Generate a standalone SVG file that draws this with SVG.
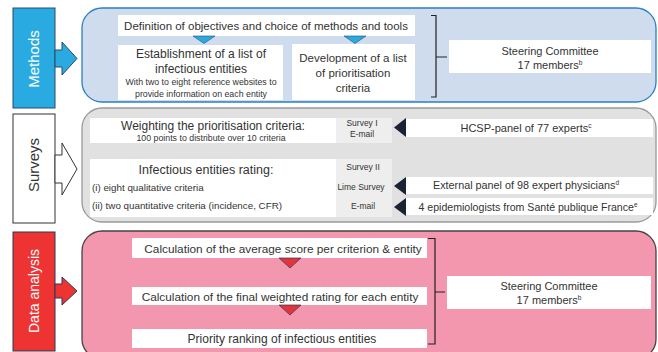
<svg xmlns="http://www.w3.org/2000/svg" width="658" height="352" viewBox="0 0 658 352">
<style>
text{font-family:"Liberation Sans","Open Sans",Arial,sans-serif;fill:#333;}
.c{text-anchor:middle;}
.wb{fill:#fff;}
.side{font-size:15px;fill:#fff;text-anchor:middle;}
.bracket{fill:none;stroke:#222;stroke-width:1.2;}
.lbl{font-size:8.5px;text-anchor:middle;}
</style>
<rect width="658" height="352" fill="#fff"/>

<g id="methods">
  <rect x="13" y="8" width="42" height="100" fill="#29abe2" stroke="#2a4a66" stroke-width="1"/>
  <text class="side" transform="translate(39,59) rotate(-90)">Methods</text>
  <path d="M55,50 H62 V42 L77,58.5 L62,75 V67 H55 Z" fill="#29abe2" stroke="#2a4a66" stroke-width="1"/>
  <rect x="82" y="8" width="574" height="94" rx="20" fill="#cfdcee" stroke="#2a7fc1" stroke-width="1.3"/>
  <rect class="wb" x="118" y="15" width="297" height="21"/>
  <text class="c" x="266" y="30" font-size="11.5">Definition of objectives and choice of methods and tools</text>
  <path d="M193,36 H215 L204,43.5 Z" fill="#29abe2" stroke="#2a4a66" stroke-width="0.6"/>
  <path d="M344,36 H366 L355,43.5 Z" fill="#29abe2" stroke="#2a4a66" stroke-width="0.6"/>
  <rect class="wb" x="118" y="45" width="165" height="55"/>
  <text class="c" x="201" y="58" font-size="12">Establishment of a list of</text>
  <text class="c" x="201" y="72.5" font-size="12">infectious entities</text>
  <text class="c" x="201" y="85" font-size="8.8">With two to eight reference websites to</text>
  <text class="c" x="201" y="96.5" font-size="8.8">provide information on each entity</text>
  <rect class="wb" x="292" y="44" width="123" height="56"/>
  <text class="c" x="353" y="62" font-size="11.5">Development of a list</text>
  <text class="c" x="353" y="77" font-size="11.5">of prioritisation</text>
  <text class="c" x="353" y="92" font-size="11.5">criteria</text>
  <path class="bracket" d="M431,15.5 H436 V97 H431 M436,57 H447"/>
  <rect class="wb" x="449" y="40" width="202" height="33"/>
  <text class="c" x="550" y="55" font-size="11">Steering Committee</text>
  <text class="c" x="550" y="68.5" font-size="11">17 members<tspan font-size="6.5" dy="-4">b</tspan></text>
</g>

<g id="surveys">
  <rect x="13" y="114" width="42" height="109" fill="#fff" stroke="#333" stroke-width="1"/>
  <text class="side" style="fill:#333" transform="translate(39,165) rotate(-90)">Surveys</text>
  <path d="M55,155 H62 V143 L77,169 L62,195 V183 H55 Z" fill="#fff" stroke="#333" stroke-width="1"/>
  <rect x="82" y="108" width="574" height="114" rx="20" fill="#e1e1e1" stroke="#999" stroke-width="1.3"/>
  <rect class="wb" x="90" y="118" width="246" height="25"/>
  <rect x="336" y="118" width="56" height="25" fill="#eeeeee"/>
  <text class="c" x="213" y="129.5" font-size="12">Weighting the prioritisation criteria:</text>
  <text class="c" x="211" y="140.5" font-size="8.8">100 points to distribute over 10 criteria</text>
  <text class="lbl" x="362" y="126">Survey I</text>
  <text class="lbl" x="362" y="137">E-mail</text>
  <path d="M394,127.5 L406,118 V137 Z" fill="#1a2233"/>
  <rect class="wb" x="406" y="119" width="247" height="18"/>
  <text class="c" x="526" y="132" font-size="11">HCSP-panel of 77 experts<tspan font-size="6.5" dy="-4">c</tspan></text>

  <rect class="wb" x="90" y="159" width="246" height="58"/>
  <rect x="336" y="159" width="56" height="58" fill="#eeeeee"/>
  <text class="c" x="206" y="174" font-size="12.5">Infectious entities rating:</text>
  <text x="92" y="190.5" font-size="9.8">(i) eight qualitative criteria</text>
  <text x="92" y="209" font-size="9.8">(ii) two quantitative criteria (incidence, CFR)</text>
  <text class="lbl" x="363" y="169.5" font-size="9">Survey II</text>
  <text class="lbl" x="361" y="190" font-size="9">Lime Survey</text>
  <text class="lbl" x="363" y="208.5" font-size="9">E-mail</text>
  <path d="M394,186 L406,177 V195 Z" fill="#1a2233"/>
  <rect class="wb" x="406" y="177" width="247" height="17"/>
  <text class="c" x="526" y="189" font-size="10.8">External panel of 98 expert physicians<tspan font-size="6.5" dy="-4">d</tspan></text>
  <path d="M394,207 L406,198 V216 Z" fill="#1a2233"/>
  <rect class="wb" x="406" y="198" width="247" height="17"/>
  <text class="c" x="528" y="210.5" font-size="10.6">4 epidemiologists from Santé publique France<tspan font-size="6.5" dy="-4">e</tspan></text>
</g>

<g id="data-analysis">
  <rect x="13" y="232" width="42" height="119" fill="#ee3333" stroke="#2a3a55" stroke-width="1"/>
  <text class="side" font-size="14" style="font-size:14px" transform="translate(39,291) rotate(-90)">Data analysis</text>
  <path d="M55,284 H62 V277 L77,291 L62,305 V298 H55 Z" fill="#ee3333" stroke="#2a3a55" stroke-width="1"/>
  <rect x="82" y="231" width="574" height="128" rx="20" fill="#f397ae" stroke="#444" stroke-width="1.3"/>
  <rect class="wb" x="132" y="238" width="295" height="20"/>
  <text class="c" x="283" y="252.5" font-size="11.8">Calculation of the average score per criterion &amp; entity</text>
  <path d="M279,258 H301 L290,268 Z" fill="#e2343c" stroke="#2a3a55" stroke-width="0.7"/>
  <rect class="wb" x="132" y="287" width="295" height="18"/>
  <text class="c" x="280" y="300.5" font-size="11.8">Calculation of the final weighted rating for each entity</text>
  <path d="M279,305 H301 L290,315 Z" fill="#e2343c" stroke="#2a3a55" stroke-width="0.7"/>
  <rect class="wb" x="132" y="329" width="295" height="19"/>
  <text class="c" x="282" y="343" font-size="12">Priority ranking of infectious entities</text>
  <path class="bracket" d="M428,238.5 H435 V344 H428 M435,292 H445"/>
  <rect class="wb" x="447" y="276" width="204" height="33"/>
  <text class="c" x="549" y="290" font-size="11">Steering Committee</text>
  <text class="c" x="549" y="303.5" font-size="11">17 members<tspan font-size="6.5" dy="-4">b</tspan></text>
</g>
</svg>
